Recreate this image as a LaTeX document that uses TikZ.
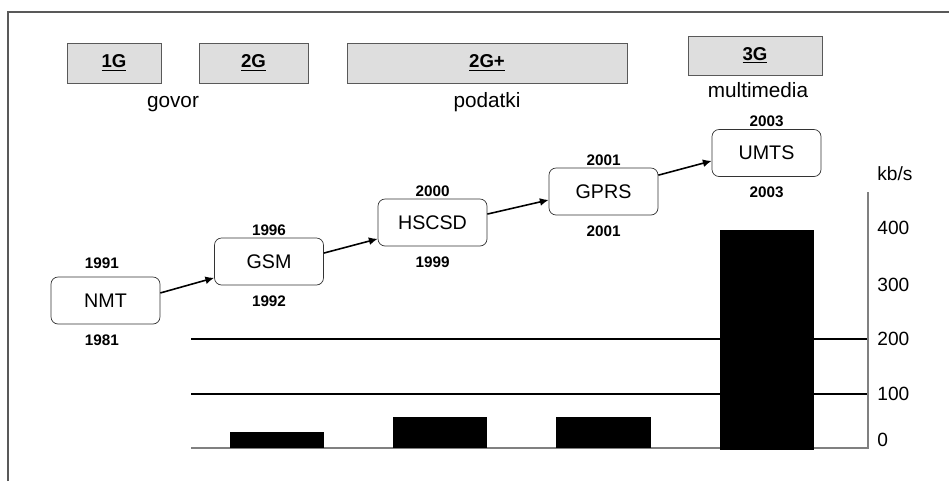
\documentclass[tikz,border=0pt]{standalone}
\usepackage{fontspec}
\setmainfont{Liberation Sans}
\usetikzlibrary{positioning,arrows.meta}
\begin{document}
\begin{tikzpicture}[x=0.02cm,y=-0.02cm,
      gen/.style={draw=black!65,fill=black!13,minimum height=0.8cm,inner sep=0pt,font=\fontsize{10.6}{12}\selectfont\bfseries},
      sys/.style={draw=black!80,rounded corners=4pt,minimum width=2.18cm,minimum height=0.94cm,inner sep=0pt,font=\fontsize{11.2}{13}\selectfont},
      yr/.style={inner sep=0pt,font=\fontsize{8.7}{10}\selectfont\bfseries},
      cat/.style={anchor=base,inner sep=0pt,font=\fontsize{11.8}{14}\selectfont},
      ax/.style={anchor=west,inner sep=0pt,font=\fontsize{10.9}{13}\selectfont},
      link/.style={line width=0.9pt,-{Latex[length=5pt,width=4.5pt]}},
      gridline/.style={line width=0.6pt},
      axisline/.style={draw=black!50,line width=0.8pt}]
      \useasboundingbox (0,0) rectangle (949,481);
      \draw[black!65,line width=0.8pt] (8,481) -- (8,12) -- (949,12);
      \node[gen,minimum width=1.88cm] (g1) at (114,63) {\underline{1G}};
      \node[gen,minimum width=2.18cm] (g2) at (253.5,63) {\underline{2G}};
      \node[gen,minimum width=5.6cm] (g2p) at (487,63) {\underline{2G+}};
      \node[gen,minimum width=2.68cm,minimum height=0.78cm] (g3) at (755,55.5) {\underline{3G}};
      \node[cat] (govor) at (173,107) {govor};
      \node[cat] (podatki) at (487,107) {podatki};
      \node[cat] (multimedia) at (758,97) {multimedia};
      \node[sys] (nmt) at (105.5,300.5) {NMT};
      \node[sys] (gsm) at (269,261.5) {GSM};
      \node[sys] (hscsd) at (432.5,222.5) {HSCSD};
      \node[sys] (gprs) at (603.5,191.5) {GPRS};
      \node[sys] (umts) at (766.5,153) {UMTS};
      \node[yr,above=4.5pt of nmt,xshift=-2pt] (nmtup) {1991};
      \node[yr,below=5.5pt of nmt,xshift=-2pt] (nmtdown) {1981};
      \node[yr,above=1pt of gsm] (gsmup) {1996};
      \node[yr,below=5.5pt of gsm] (gsmdown) {1992};
      \node[yr,above=1pt of hscsd] (hscsdup) {2000};
      \node[yr,below=5.5pt of hscsd] (hscsddown) {1999};
      \node[yr,above=0.7pt of gprs] (gprsup) {2001};
      \node[yr,below=5.5pt of gprs] (gprsdown) {2001};
      \node[yr,above=1.5pt of umts] (umtsup) {2003};
      \node[yr,below=5.5pt of umts] (umtsdown) {2003};
      \draw[link] ([yshift=4.3pt]nmt.east) -- ([yshift=-9.3pt]gsm.west);
      \draw[link] ([yshift=4.8pt]gsm.east) -- ([yshift=-9.3pt]hscsd.west);
      \draw[link] ([yshift=4.8pt]hscsd.east) -- ([yshift=-4.8pt]gprs.west);
      \draw[link] ([yshift=9.3pt]gprs.east) -- ([yshift=-4.5pt]umts.west);
      \draw[gridline] (191,339) -- (868,339);
      \draw[gridline] (191,394) -- (868,394);
      \draw[axisline] (191,448) -- (868,448) -- (868,192);
      \fill (230,432) rectangle (324,448);
      \fill (393,417) rectangle (487,448);
      \fill (556,417) rectangle (651,448);
      \fill (720,230) rectangle (814,450);
      \node[ax,anchor=base west] (kbs) at (877,180) {kb/s};
      \node[ax] (v400) at (877,228) {400};
      \node[ax] (v300) at (877,285) {300};
      \node[ax] (v200) at (877,339) {200};
      \node[ax] (v100) at (877,394) {100};
      \node[ax] (v0) at (877,440) {0};
      \end{tikzpicture}
\end{document}
